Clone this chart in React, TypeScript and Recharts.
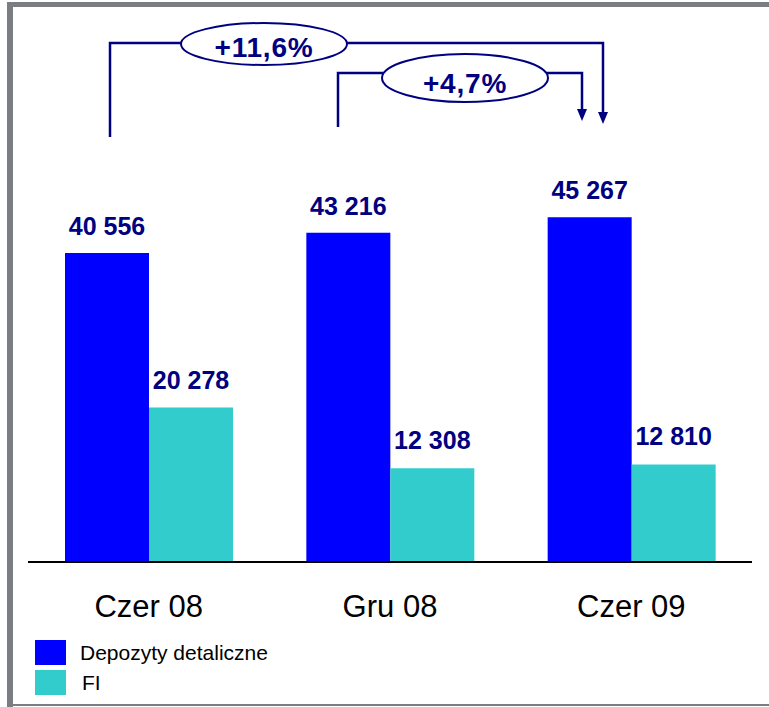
import React from 'react';
import { BarChart, Bar, XAxis, YAxis, LabelList } from 'recharts';

const categories = ['Czer 08', 'Gru 08', 'Czer 09'];
const depozyty = [40556, 43216, 45267];
const fi = [20278, 12308, 12810];
const seriesNames = ['Depozyty detaliczne', 'FI'];
const seriesColors = ['#0000ff', '#33cccc'];
const growthLabels = ['+11,6%', '+4,7%'];

const data = categories.map((c, i) => ({ name: c, dep: depozyty[i], fi: fi[i] }));

const NAVY = '#000080';
const FONT = '"Liberation Sans", Arial, sans-serif';

// "40556" -> "40 556"
const fmt = (v: any) => String(v).replace(/\B(?=(\d{3})+(?!\d))/g, ' ');

function Brackets() {
  return (
    <svg width={769} height={707} style={{ position: 'absolute', left: 0, top: 0, pointerEvents: 'none' }}>
      <g stroke={NAVY} strokeWidth={2.5} fill="none">
        {/* Czer 08 -> Czer 09 */}
        <path d="M110,137 V43 H603 V113" />
        {/* Gru 08 -> Czer 09 */}
        <path d="M338,127 V73 H582 V110" />
      </g>
      <polygon points="598,112 608,112 603,124" fill={NAVY} />
      <polygon points="577,109 587,109 582,121" fill={NAVY} />
      <ellipse cx={264} cy={44} rx={83} ry={21} fill="#fff" stroke={NAVY} strokeWidth={2} />
      <ellipse cx={465} cy={78} rx={83} ry={24} fill="#fff" stroke={NAVY} strokeWidth={2} />
      <text x={264} y={57} textAnchor="middle" fill={NAVY} fontFamily={FONT} fontWeight="bold" fontSize={28} letterSpacing={0.8}>
        {growthLabels[0]}
      </text>
      <text x={465} y={93} textAnchor="middle" fill={NAVY} fontFamily={FONT} fontWeight="bold" fontSize={28} letterSpacing={0.8}>
        {growthLabels[1]}
      </text>
    </svg>
  );
}

export default function App() {
  return (
    <div style={{ position: 'absolute', left: 0, top: 0, width: 769, height: 707, background: '#fff', fontFamily: FONT }}>
      {/* frame */}
      <div style={{ position: 'absolute', left: 7, top: 2, width: 6, height: 705, background: '#7a7e82' }} />
      <div style={{ position: 'absolute', left: 7, top: 2, width: 762, height: 5, background: '#7a7e82' }} />
      <div style={{ position: 'absolute', left: 7, top: 704, width: 762, height: 2, background: '#7a7e82' }} />

      <div style={{ position: 'absolute', left: 0, top: 0 }}>
        <BarChart width={769} height={707} data={data}
          margin={{ top: 105, right: 17, bottom: 115, left: 28 }} barGap={0} barSize={84}>
          <XAxis dataKey="name" tickLine={false} tickSize={0} tickMargin={33}
            axisLine={{ stroke: '#000', strokeWidth: 2 }}
            tick={{ fill: '#000', fontSize: 31, fontFamily: FONT }} />
          <YAxis hide domain={[0, 60000]} />
          <Bar dataKey="dep" name={seriesNames[0]} fill={seriesColors[0]} isAnimationActive={false}>
            <LabelList dataKey="dep" position="top" offset={18} formatter={fmt}
              style={{ fill: NAVY, fontSize: 25, fontWeight: 'bold', fontFamily: FONT }} />
          </Bar>
          <Bar dataKey="fi" name={seriesNames[1]} fill={seriesColors[1]} isAnimationActive={false}>
            <LabelList dataKey="fi" position="top" offset={19} formatter={fmt}
              style={{ fill: NAVY, fontSize: 25, fontWeight: 'bold', fontFamily: FONT }} />
          </Bar>
        </BarChart>
      </div>

      <Brackets />

      {/* legend */}
      {seriesNames.map((s, i) => (
        <div key={s} style={{ position: 'absolute', left: 35, top: 640 + i * 30, display: 'flex', alignItems: 'center' }}>
          <div style={{ width: 31, height: 25, background: seriesColors[i] }} />
          <span style={{ marginLeft: i === 0 ? 14 : 16, fontSize: 21, color: '#000', lineHeight: '25px' }}>{s}</span>
        </div>
      ))}
    </div>
  );
}
